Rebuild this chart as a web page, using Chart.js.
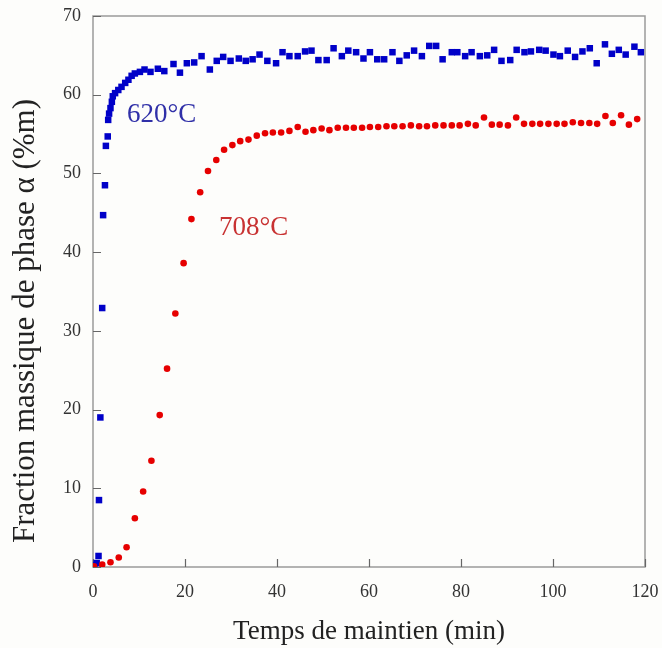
<!DOCTYPE html>
<html>
<head>
<meta charset="utf-8">
<script src="https://cdn.jsdelivr.net/npm/chart.js@4.4.0/dist/chart.umd.min.js"></script>
<style>
  html, body { margin: 0; padding: 0; background: #fdfdfb; }
  #wrap { width: 662px; height: 648px; }
</style>
</head>
<body>
<div id="wrap"><canvas id="chart" width="662" height="648"></canvas></div>
<script>
// 708°C series (red circles)
const redTime = [0.2, 2.0, 3.8, 5.6, 7.3, 9.1, 10.9, 12.7, 14.5, 16.1, 17.9, 19.7, 21.4,
  23.3, 25.0, 26.8, 28.5, 30.3, 32.0, 33.8, 35.6, 37.4, 39.1, 40.9,
  42.7, 44.5, 46.2, 47.9, 49.7, 51.4, 53.2, 55.0, 56.7, 58.5,
  60.2, 62.0, 63.8, 65.5, 67.3, 69.1, 70.9, 72.6, 74.4, 76.2,
  78.0, 79.7, 81.5, 83.2, 85.0, 86.7, 88.4, 90.2, 92.0, 93.7,
  95.5, 97.2, 99.0, 100.8, 102.5, 104.3, 106.1, 107.9, 109.6, 111.4,
  113.0, 114.8, 116.5, 118.3];
const redFrac = [0.1, 0.3, 0.6, 1.2, 2.5, 6.2, 9.6, 13.5, 19.3, 25.2, 32.2, 38.6, 44.2,
  47.6, 50.3, 51.7, 53.0, 53.6, 54.1, 54.3, 54.8, 55.1, 55.2, 55.2,
  55.4, 55.9, 55.3, 55.5, 55.7, 55.5, 55.8, 55.8, 55.8, 55.8,
  55.9, 55.9, 56.0, 56.0, 56.0, 56.1, 56.0, 56.0, 56.1, 56.1,
  56.1, 56.1, 56.3, 56.1, 57.1, 56.2, 56.2, 56.1, 57.1, 56.3,
  56.3, 56.3, 56.3, 56.3, 56.3, 56.5, 56.4, 56.4, 56.3, 57.3,
  56.4, 57.4, 56.2, 56.9];

// 620°C series (blue squares)
const blueTime = [0.3, 0.8, 1.2, 1.3, 1.6, 2.0, 2.2, 2.6, 2.8, 3.2,
  3.3, 3.5, 3.8, 4.1, 4.3, 4.8, 5.5, 6.2, 7.0, 7.7,
  8.4, 9.1, 10.2, 11.2, 12.5, 14.1, 15.5, 17.5, 18.9, 20.4,
  22.0, 23.6, 25.4, 26.9, 28.3, 29.9, 31.7, 33.2, 34.7, 36.2,
  37.9, 39.8, 41.2, 42.7, 44.5, 46.1, 47.5, 49.0, 50.8, 52.3,
  54.1, 55.5, 57.2, 58.8, 60.2, 61.8, 63.3, 65.1, 66.6, 68.2,
  69.8, 71.5, 73.1, 74.6, 76.0, 78.0, 79.2, 80.9, 82.3, 84.1,
  85.7, 87.2, 88.8, 90.7, 92.1, 93.8, 95.2, 97.0, 98.4, 100.1,
  101.5, 103.2, 104.8, 106.4, 108.0, 109.5, 111.3, 112.8, 114.3, 115.8,
  117.7, 119.1];
const blueFrac = [0.2, 0.5, 1.4, 8.5, 19.0, 32.9, 44.7, 48.5, 53.5, 54.7,
  56.8, 57.6, 58.3, 59.1, 59.8, 60.2, 60.6, 61.0, 61.5, 61.9,
  62.4, 62.7, 62.9, 63.2, 62.9, 63.3, 63.0, 63.9, 62.8, 64.0,
  64.1, 64.9, 63.2, 64.3, 64.8, 64.3, 64.6, 64.3, 64.5, 65.1,
  64.3, 64.0, 65.4, 64.9, 64.9, 65.5, 65.6, 64.4, 64.4, 65.9,
  64.9, 65.6, 65.4, 64.6, 65.4, 64.5, 64.5, 65.4, 64.3, 65.0,
  65.6, 64.9, 66.2, 66.2, 64.5, 65.4, 65.4, 64.9, 65.4, 64.9,
  65.0, 65.7, 64.3, 64.4, 65.7, 65.4, 65.5, 65.7, 65.6, 65.1,
  64.9, 65.6, 64.8, 65.5, 65.9, 64.0, 66.4, 65.2, 65.7, 65.1,
  66.1, 65.4];

const xTicks = [0, 20, 40, 60, 80, 100, 120];
const yTicks = [0, 10, 20, 30, 40, 50, 60, 70];

// curve labels, anchored in data units
const curveLabels = [
  { text: '620°C', x: 7.4, y: 57.4, color: '#3030a8' },
  { text: '708°C', x: 27.4, y: 43.1, color: '#c83232' }
];

const serif = '"Liberation Serif", "Times New Roman", serif';

function pts(xs, ys) {
  return xs.map((x, i) => ({ x: x, y: ys[i] }));
}

// frame, inward tick marks, y title and curve labels
const framePlugin = {
  id: 'frame',
  beforeDatasetsDraw(chart) {
    const { ctx, chartArea: a, scales } = chart;
    ctx.save();
    ctx.strokeStyle = '#9a9a9a';
    ctx.lineWidth = 1.5;
    ctx.strokeRect(a.left, a.top, a.right - a.left, a.bottom - a.top);
    ctx.strokeStyle = '#666';
    ctx.lineWidth = 1.2;
    ctx.beginPath();
    xTicks.forEach(v => {
      const px = Math.round(scales.x.getPixelForValue(v)) + 0.5;
      ctx.moveTo(px, a.bottom);
      ctx.lineTo(px, a.bottom - 8);
    });
    yTicks.forEach(v => {
      const py = Math.round(scales.y.getPixelForValue(v)) + 0.5;
      ctx.moveTo(a.left, py);
      ctx.lineTo(a.left + 8, py);
    });
    ctx.stroke();
    ctx.restore();
  },
  afterDraw(chart) {
    const { ctx, scales } = chart;
    ctx.save();
    ctx.fillStyle = '#222';
    ctx.font = '31px ' + serif;
    ctx.textAlign = 'center';
    ctx.textBaseline = 'middle';
    ctx.translate(26, 321);
    ctx.rotate(-Math.PI / 2);
    ctx.fillText('Fraction massique de phase α (%m)', 0, 0);
    ctx.restore();

    ctx.save();
    ctx.font = '27px ' + serif;
    ctx.textAlign = 'left';
    ctx.textBaseline = 'middle';
    curveLabels.forEach(l => {
      ctx.fillStyle = l.color;
      ctx.fillText(l.text, scales.x.getPixelForValue(l.x), scales.y.getPixelForValue(l.y));
    });
    ctx.restore();
  }
};

new Chart(document.getElementById('chart'), {
  type: 'scatter',
  data: {
    datasets: [
      {
        label: '708°C',
        data: pts(redTime, redFrac),
        pointStyle: 'circle',
        pointRadius: 3.3,
        backgroundColor: '#e60000',
        borderColor: '#e60000',
        borderWidth: 0
      },
      {
        label: '620°C',
        data: pts(blueTime, blueFrac),
        pointStyle: 'rect',
        pointRadius: 4.6,
        backgroundColor: '#0000c8',
        borderColor: '#0000c8',
        borderWidth: 0
      }
    ]
  },
  options: {
    responsive: false,
    animation: false,
    layout: { padding: { top: 16, right: 17, left: 0, bottom: 0 } },
    plugins: {
      legend: { display: false },
      tooltip: { enabled: false }
    },
    scales: {
      x: {
        type: 'linear',
        min: 0,
        max: 120,
        afterBuildTicks: s => { s.ticks = xTicks.map(v => ({ value: v })); },
        afterFit: s => { s.height = 81; s.paddingLeft = 0; s.paddingRight = 0; },
        grid: { display: false, drawTicks: false },
        border: { display: false },
        ticks: {
          color: '#333',
          padding: 14,
          font: { family: serif, size: 18 }
        },
        title: {
          display: true,
          text: 'Temps de maintien (min)',
          color: '#222',
          padding: { top: 4, bottom: 0 },
          font: { family: serif, size: 27 }
        }
      },
      y: {
        type: 'linear',
        min: 0,
        max: 70,
        afterBuildTicks: s => { s.ticks = yTicks.map(v => ({ value: v })); },
        afterFit: s => { s.width = 93; s.paddingTop = 0; s.paddingBottom = 0; },
        grid: { display: false, drawTicks: false },
        border: { display: false },
        ticks: {
          color: '#333',
          padding: 12,
          font: { family: serif, size: 18 }
        }
      }
    }
  },
  plugins: [framePlugin]
});
</script>
</body>
</html>
